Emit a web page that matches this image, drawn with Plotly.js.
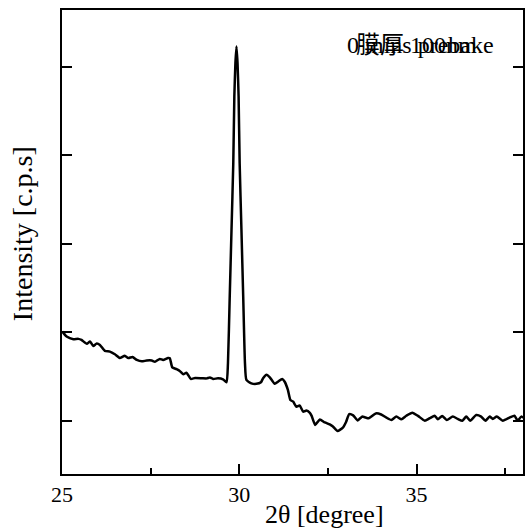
<!DOCTYPE html>
<html>
<head>
<meta charset="utf-8">
<script src="https://cdn.plot.ly/plotly-3.0.1.min.js"></script>
<style>html,body{margin:0;padding:0;background:#fff;}#chart{width:526px;height:530px;}</style>
</head>
<body>
<div id="chart"></div>
<script>
const twoTheta = [25.01,25.13,25.32,25.46,25.55,25.70,25.79,25.88,25.98,26.07,26.21,26.35,26.49,26.63,26.77,26.87,26.99,27.11,27.25,27.39,27.53,27.62,27.76,27.85,27.99,28.04,28.11,28.23,28.32,28.42,28.51,28.63,28.75,28.94,29.08,29.17,29.26,29.40,29.54,29.64,
29.68,29.73,29.78,29.83,29.86,29.89,29.92,29.95,29.98,30.01,30.06,30.11,30.16,30.20,
30.34,30.48,30.61,30.67,30.77,30.86,31.00,31.09,31.21,31.28,31.37,31.44,31.52,31.61,31.70,31.80,31.89,31.99,32.04,32.14,32.27,32.41,32.55,32.64,32.77,32.92,33.01,33.10,33.21,33.34,33.46,33.56,33.65,33.85,34.00,34.15,34.29,34.43,34.57,34.71,34.88,35.04,35.23,35.37,35.51,35.60,35.72,35.85,36.02,36.16,36.29,36.40,36.51,36.68,36.82,36.94,37.06,37.15,37.26,37.43,37.62,37.76,37.85,37.95,38.04];
const intensity = [804,776,761,763,757,735,748,723,737,729,695,691,676,655,668,655,661,644,636,641,641,634,650,644,655,654,602,592,582,563,572,537,542,541,540,545,537,540,534,518,
625,1002,1379,1755,2132,2320,2414,2320,2132,1755,1379,1002,625,531,
512,509,518,541,561,546,509,521,537,521,475,418,408,380,387,352,358,345,328,277,308,291,280,268,243,262,294,338,331,302,324,319,315,342,336,318,305,324,309,329,346,328,301,315,329,309,328,305,324,311,301,324,301,333,324,301,324,311,324,301,318,329,301,324,315];
const xTitle = "2θ [degree]";
const yTitle = "Intensity [c.p.s]";
const labels = ["0 mins prebake", "膜厚 100nm"];

const serif = "'Liberation Serif', 'Noto Sans CJK JP', serif";
const trace = {
  x: twoTheta, y: intensity, type: 'scatter', mode: 'lines',
  line: {color: '#000', width: 2.5, shape: 'spline', smoothing: 0.5},
  hoverinfo: 'skip'
};
const layout = {
  width: 526, height: 530,
  margin: {l: 62, r: 3, t: 10, b: 56},
  paper_bgcolor: '#fff', plot_bgcolor: '#fff',
  showlegend: false,
  font: {family: serif, color: '#000', size: 22},
  xaxis: {
    range: [25, 38], tick0: 25, dtick: 5,
    ticks: 'inside', ticklen: 10, tickwidth: 2, tickcolor: '#000',
    minor: {dtick: 2.5, ticks: 'inside', ticklen: 6, tickwidth: 2, tickcolor: '#000'},
    showline: true, linecolor: '#000', linewidth: 2, mirror: true,
    showgrid: false, zeroline: false,
    tickfont: {family: serif, size: 22, color: '#000'}
  },
  yaxis: {
    range: [0, 2620], tick0: 300, dtick: 500,
    ticks: 'inside', ticklen: 10, tickwidth: 2, tickcolor: '#000',
    showticklabels: false,
    showline: true, linecolor: '#000', linewidth: 2, mirror: 'ticks',
    showgrid: false, zeroline: false
  },
  annotations: [
    {text: xTitle, xref: 'paper', yref: 'paper', x: 0.57, y: -0.087, xanchor: 'center', yanchor: 'middle', showarrow: false, borderpad: 0, font: {family: serif, size: 26, color: '#000'}},
    {text: yTitle, xref: 'paper', yref: 'paper', x: -0.0867, y: 0.517, xanchor: 'center', yanchor: 'middle', textangle: -90, showarrow: false, font: {family: serif, size: 28, color: '#000'}},
    {text: labels[0], xref: 'paper', yref: 'paper', x: 0.613, y: 0.925, xanchor: 'left', yanchor: 'middle', showarrow: false, font: {family: serif, size: 24, color: '#000'}},
    {text: labels[1], xref: 'paper', yref: 'paper', x: 0.634, y: 0.925, xanchor: 'left', yanchor: 'middle', showarrow: false, font: {family: serif, size: 24, color: '#000'}}
  ]
};
Plotly.newPlot('chart', [trace], layout, {staticPlot: true, displayModeBar: false});
</script>
</body>
</html>
